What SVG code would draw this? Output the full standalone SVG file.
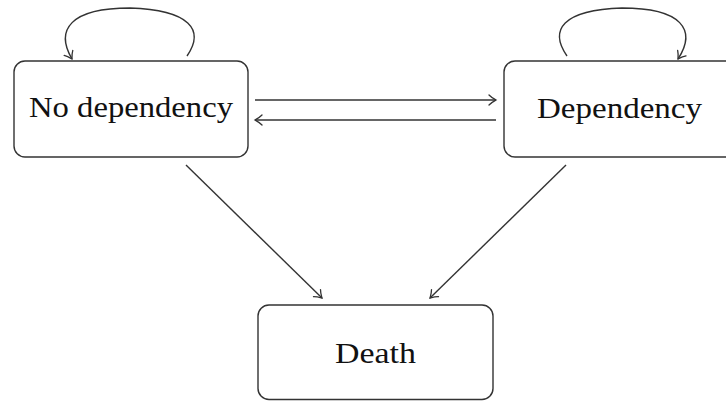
<svg xmlns="http://www.w3.org/2000/svg" width="726" height="401" viewBox="0 0 726 401">
<defs>
<style>
.box{fill:#fff;stroke:#333;stroke-width:1.4}
.lbl{font-family:"Liberation Serif","DejaVu Serif",serif;font-size:29px;fill:#111;text-anchor:middle}
.edge{fill:none;stroke:#333;stroke-width:1.4}
</style>
<marker id="to" viewBox="-8 -6 10 12" markerWidth="10" markerHeight="12" refX="0" refY="0" orient="auto" markerUnits="userSpaceOnUse">
<path d="M-7,-5 C-4,-2 -1,-0.6 0,0 C-1,0.6 -4,2 -7,5" fill="none" stroke="#333" stroke-width="1.3" stroke-linecap="round"/>
</marker>
</defs>
<rect width="726" height="401" fill="#fff"/>
<g id="connectors">
<path class="edge" marker-end="url(#to)" d="M255,100 L496,100"/>
<path class="edge" marker-end="url(#to)" d="M496,120 L255,120"/>
<path class="edge" marker-end="url(#to)" d="M186,165 L322,298"/>
<path class="edge" marker-end="url(#to)" d="M566,165 L430,298"/>
<path class="edge" marker-end="url(#to)" d="M187,56 C205,30 190,10 130,8 C70,8 55,30 72,59"/>
<path class="edge" marker-end="url(#to)" d="M567,56 C549,30 562,10 622,8 C682,8 697,30 678,59"/>
</g>
<g id="no-dependency">
<rect class="box" x="14" y="61" width="234" height="96" rx="11"/>
<text class="lbl" x="131" y="117" textLength="204" lengthAdjust="spacingAndGlyphs">No dependency</text>
</g>
<g id="dependency">
<rect class="box" x="504" y="61" width="232" height="96" rx="11"/>
<text class="lbl" x="619.5" y="118" textLength="165" lengthAdjust="spacingAndGlyphs">Dependency</text>
</g>
<g id="death">
<rect class="box" x="258" y="305" width="235" height="94.5" rx="11"/>
<text class="lbl" x="375.5" y="363" textLength="81" lengthAdjust="spacingAndGlyphs">Death</text>
</g>
</svg>
